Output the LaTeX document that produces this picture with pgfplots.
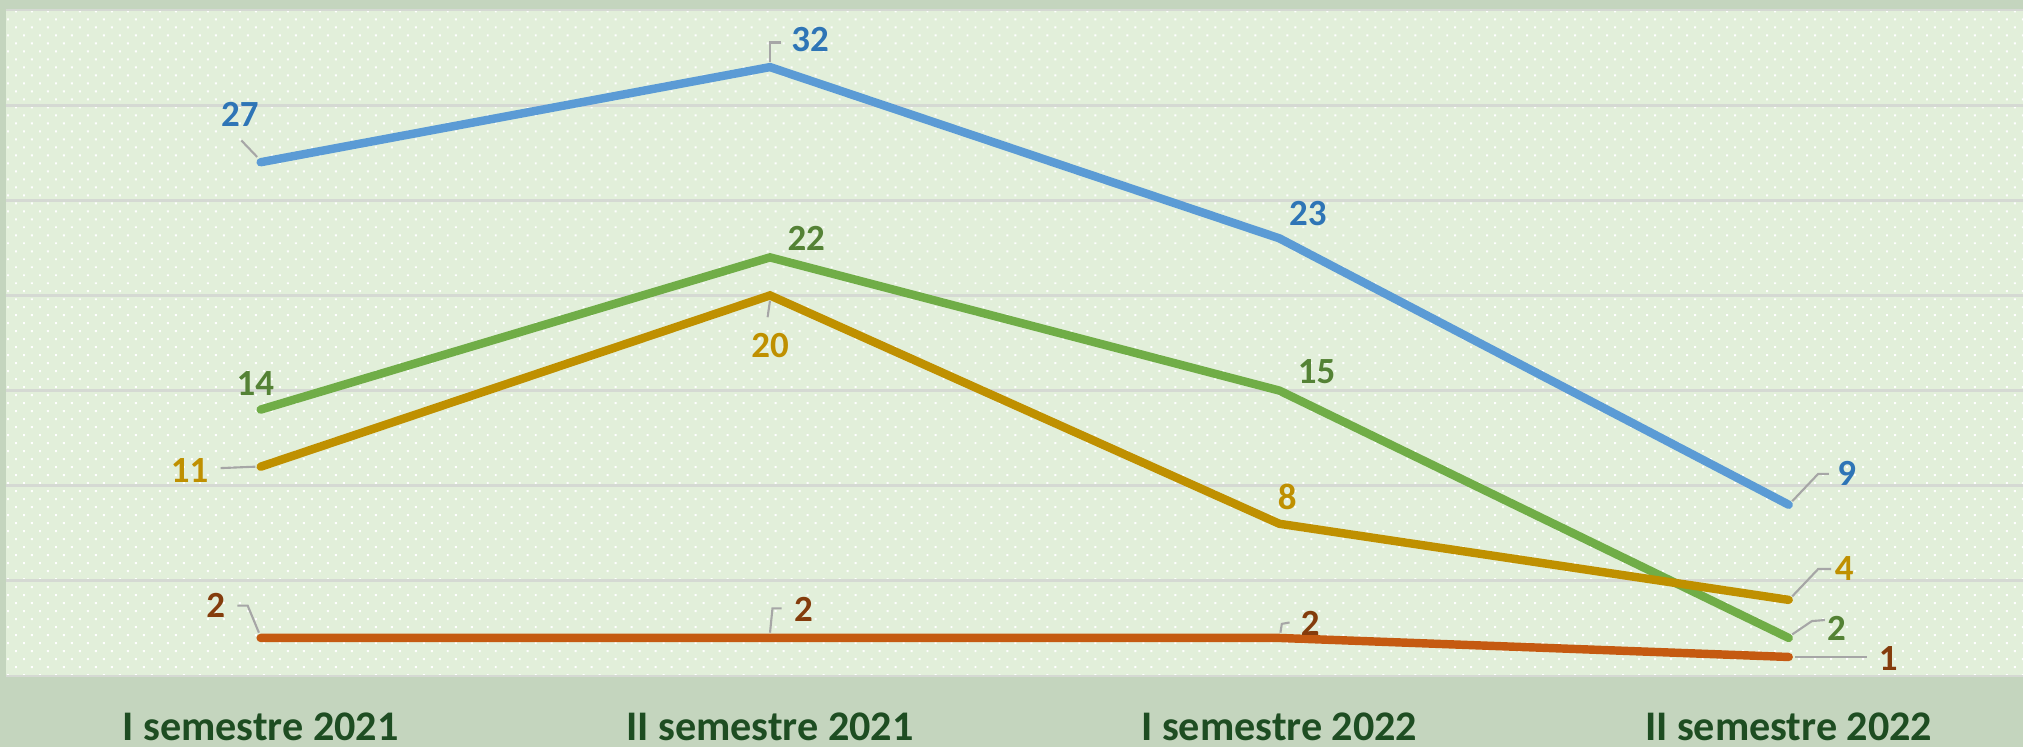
\documentclass[border=0pt]{standalone}
\usepackage{pgfplots}
\pgfplotsset{compat=1.18}
\usepackage{pgfplotstable}
\usepackage{fontspec}
\setmainfont{Carlito}
\usetikzlibrary{patterns,backgrounds}

\definecolor{outerbg}{HTML}{C4D5BE}
\definecolor{plotbg}{HTML}{E2EFDA}
\definecolor{gridc}{HTML}{D5D9D3}
\definecolor{bline}{HTML}{5B9BD5}
\definecolor{blbl}{HTML}{2E75B6}
\definecolor{gline}{HTML}{70AD47}
\definecolor{glbl}{HTML}{548235}
\definecolor{yline}{HTML}{BF9000}
\definecolor{ylbl}{HTML}{BF9000}
\definecolor{oline}{HTML}{C55A11}
\definecolor{olbl}{HTML}{843C0C}
\definecolor{ticktxt}{HTML}{1E4D22}
\definecolor{leadc}{HTML}{A6A6A6}

\pgfdeclarepatternformonly{smalldots}{\pgfqpoint{-0.4pt}{-0.4pt}}{\pgfqpoint{4.55pt}{4.55pt}}{\pgfqpoint{4.55pt}{4.55pt}}{%
  \pgfpathrectangle{\pgfqpoint{-0.28pt}{-0.28pt}}{\pgfqpoint{0.56pt}{0.56pt}}%
  \pgfpathrectangle{\pgfqpoint{2.0pt}{2.0pt}}{\pgfqpoint{0.56pt}{0.56pt}}%
  \pgfusepath{fill}}

\pgfplotstableread{
x y dx dy
0 27 -5.9 13.6
1 32 11.4 7.7
2 23 8.1 7.0
3 9 16.5 8.8
}\datablue
\pgfplotstableread{
x y dx dy
0 14 -1.5 7.3
1 22 10.3 5.5
2 15 10.6 5.5
3 2 13.6 2.6
}\datagreen
\pgfplotstableread{
x y dx dy
0 11 -20.2 -1.1
1 20 0 -14.3
2 8 2.2 7.7
3 4 15.8 8.8
}\datagold
\pgfplotstableread{
x y dx dy
0 2 -12.8 9.2
1 2 9.5 8.1
2 2 8.8 4.0
3 1 28.3 -0.4
}\dataorange

\pgfplotsset{
  lbl/.style={
    point meta=explicit symbolic,
    nodes near coords={\pgfplotspointmeta},
    visualization depends on={\thisrow{dx}\as\lblx},
    visualization depends on={\thisrow{dy}\as\lbly},
    every node near coord/.append style={anchor=center, xshift=\lblx pt, yshift=\lbly pt,
      text=#1, font=\fontsize{10.5}{12}\selectfont\bfseries, inner sep=0pt},
  },
}
\tikzset{leader/.style={draw=leadc, line width=0.6pt}}

\begin{document}
\begin{tikzpicture}
\begin{axis}[
  scale only axis,
  width=20.17cm, height=6.66cm,
  xmin=-0.5, xmax=3.46, ymin=0, ymax=35,
  clip=false,
  axis background/.style={fill=plotbg, postaction={pattern=smalldots, pattern color=white}},
  axis line style={draw=none},
  tick style={draw=none},
  major tick length=0pt,
  ytick={0,5,...,35},
  yticklabels={},
  ymajorgrids,
  grid style={draw=gridc, line width=0.8pt},
  xtick={0,1,2,3},
  xticklabels={I semestre 2021, II semestre 2021, I semestre 2022, II semestre 2022},
  xticklabel style={anchor=base, yshift=-18.3pt, text=ticktxt, font=\fontsize{12}{14}\selectfont\bfseries},
  every axis plot/.append style={line width=2.4pt, line cap=round, line join=miter, mark=none},
]
\addplot[bline, lbl=blbl] table[x=x, y=y, meta=y] {\datablue};
\addplot[gline, lbl=glbl] table[x=x, y=y, meta=y] {\datagreen};
\addplot[yline, lbl=ylbl] table[x=x, y=y, meta=y] {\datagold};
\addplot[oline, lbl=olbl] table[x=x, y=y, meta=y] {\dataorange};

% leader lines
\draw[leader] ([shift={(-1pt,1.5pt)}]axis cs:0,27) -- ([shift={(-5.5pt,6.2pt)}]axis cs:0,27);
\draw[leader] ([shift={(0pt,1.5pt)}]axis cs:1,32) -- ([shift={(0pt,7pt)}]axis cs:1,32) -- ([shift={(3pt,7pt)}]axis cs:1,32);
\draw[leader] ([shift={(1pt,1pt)}]axis cs:3,9) -- ([shift={(8.4pt,8.8pt)}]axis cs:3,9) -- ([shift={(11.4pt,8.8pt)}]axis cs:3,9);
\draw[leader] ([shift={(1pt,1pt)}]axis cs:3,2) -- ([shift={(6.6pt,4.8pt)}]axis cs:3,2) -- ([shift={(10.3pt,5.1pt)}]axis cs:3,2);
\draw[leader] ([shift={(1pt,1pt)}]axis cs:3,4) -- ([shift={(8.4pt,8.8pt)}]axis cs:3,4) -- ([shift={(12.1pt,8.8pt)}]axis cs:3,4);
\draw[leader] ([shift={(1.8pt,0pt)}]axis cs:3,1) -- ([shift={(22.4pt,0pt)}]axis cs:3,1);
\draw[leader] ([shift={(-11.4pt,-0.4pt)}]axis cs:0,11) -- ([shift={(-1.5pt,0pt)}]axis cs:0,11);
\draw[leader] ([shift={(0pt,-1.5pt)}]axis cs:1,20) -- ([shift={(-0.7pt,-6.2pt)}]axis cs:1,20);
\draw[leader] ([shift={(-0.5pt,1.5pt)}]axis cs:0,2) -- ([shift={(-3.7pt,9.2pt)}]axis cs:0,2) -- ([shift={(-6.6pt,9.2pt)}]axis cs:0,2);
\draw[leader] ([shift={(0pt,1.5pt)}]axis cs:1,2) -- ([shift={(0.7pt,8.4pt)}]axis cs:1,2) -- ([shift={(3.3pt,8.4pt)}]axis cs:1,2);
\draw[leader] ([shift={(0.3pt,1.5pt)}]axis cs:2,2) -- ([shift={(0.7pt,4pt)}]axis cs:2,2) -- ([shift={(2.9pt,4.4pt)}]axis cs:2,2);
\end{axis}
\begin{scope}[on background layer]
\fill[outerbg] (-0.06cm,-0.71cm) rectangle (20.17cm,6.76cm);
\end{scope}
\pgfresetboundingbox
\path[use as bounding box] (-0.06cm,-0.71cm) rectangle (20.17cm,6.76cm);
\end{tikzpicture}
\end{document}
